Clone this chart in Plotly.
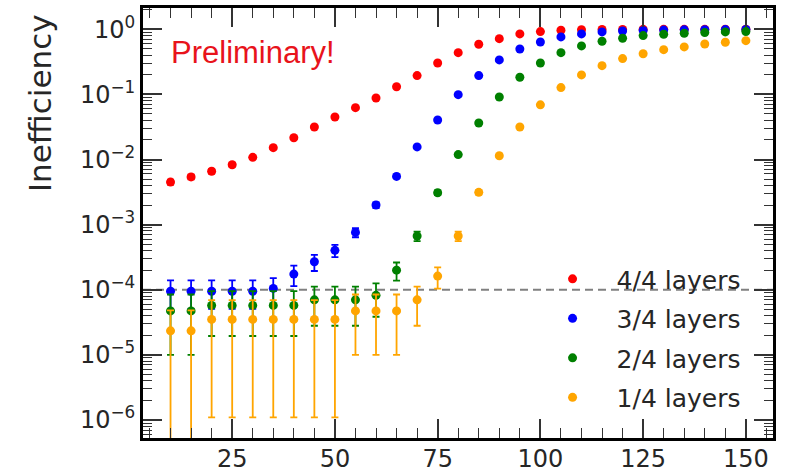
import plotly.graph_objects as go

x_vals = [10, 15, 20, 25, 30, 35, 40, 45, 50, 55, 60, 65, 70, 75, 80, 85, 90, 95, 100,
          105, 110, 115, 120, 125, 130, 135, 140, 145, 150]

red_y = [4.5e-3, 5.4e-3, 6.6e-3, 8.3e-3, 1.08e-2, 1.52e-2, 2.16e-2, 3.16e-2, 4.5e-2, 6.25e-2,
         8.8e-2, 0.131, 0.194, 0.303, 0.437, 0.589, 0.717, 0.847, 0.92, 0.965,
         0.98, 0.99, 0.993, 0.995, 0.996, 0.997, 0.997, 0.998, 0.998]
red_err = [4e-4, 4.5e-4, 5e-4, 5.5e-4, 6e-4, 7e-4, 9e-4, 1.1e-3, 1.3e-3, 1.5e-3,
           1.8e-3, 2.2e-3, 2.6e-3, 3e-3, 3.2e-3, 3.2e-3, 3e-3, 2.5e-3, 2e-3, 1.3e-3,
           1e-3, 7e-4, 6e-4, 5e-4, 4e-4, 4e-4, 4e-4, 3e-4, 3e-4]

blue_y = [9.5e-5, 9.5e-5, 9.5e-5, 9.5e-5, 9.5e-5, 1.05e-4, 1.74e-4, 2.69e-4, 4.03e-4, 7.6e-4,
          2.0e-3, 5.5e-3, 1.56e-2, 4.04e-2, 9.9e-2, 0.194, 0.338, 0.498, 0.638, 0.762,
          0.847, 0.909, 0.94, 0.96, 0.97, 0.978, 0.984, 0.988, 0.99]
blue_err = [4.4e-5, 4.4e-5, 4.4e-5, 4.4e-5, 4.4e-5, 4.6e-5, 6e-5, 7.5e-5, 8.5e-5, 1.2e-4,
            2e-4, 3.3e-4, 5.5e-4, 9e-4, 1.3e-3, 1.7e-3, 2e-3, 2.1e-3, 2e-3, 1.8e-3,
            1.5e-3, 1.2e-3, 1e-3, 8e-4, 7e-4, 6e-4, 5e-4, 4e-4, 4e-4]

green_y = [4.73e-5, 4.73e-5, 5.75e-5, 5.75e-5, 5.75e-5, 5.75e-5, 5.75e-5, 7.0e-5, 7.0e-5, 7.0e-5,
           8.2e-5, 2.0e-4, 6.7e-4, 3.09e-3, 1.19e-2, 3.64e-2, 9.1e-2, 0.183, 0.303, 0.437,
           0.554, 0.653, 0.726, 0.798, 0.837, 0.868, 0.887, 0.909, 0.92]
green_err = [3.73e-5, 3.73e-5, 3.8e-5, 3.8e-5, 3.8e-5, 3.8e-5, 3.8e-5, 4.2e-5, 4.2e-5, 4.2e-5,
             4.35e-5, 6.2e-5, 1.1e-4, 2.5e-4, 5e-4, 8e-4, 1.2e-3, 1.6e-3, 1.9e-3, 2.1e-3,
             2.1e-3, 2e-3, 1.8e-3, 1.6e-3, 1.5e-3, 1.4e-3, 1.3e-3, 1.2e-3, 1.1e-3]

orange_y = [2.34e-5, 2.34e-5, 3.51e-5, 3.51e-5, 3.51e-5, 3.51e-5, 3.51e-5, 3.51e-5, 3.51e-5, 4.73e-5,
            4.73e-5, 4.73e-5, 7.0e-5, 1.62e-4, 6.7e-4, 3.13e-3, 1.14e-2, 3.16e-2, 6.9e-2, 0.127,
            0.199, 0.276, 0.354, 0.42, 0.486, 0.535, 0.594, 0.63, 0.668]
orange_err = [2.5e-5, 2.5e-5, 3.4e-5, 3.4e-5, 3.4e-5, 3.4e-5, 3.4e-5, 3.4e-5, 3.4e-5, 3.73e-5,
              3.73e-5, 3.73e-5, 4.2e-5, 5.8e-5, 1.1e-4, 2.5e-4, 5e-4, 8e-4, 1.2e-3, 1.6e-3,
              1.9e-3, 2.1e-3, 2.2e-3, 2.3e-3, 2.3e-3, 2.3e-3, 2.3e-3, 2.2e-3, 2.2e-3]

series_names = ["4/4 layers", "3/4 layers", "2/4 layers", "1/4 layers"]
series_colors = ["#ff0000", "#0000ff", "#008000", "#ffa500"]
series_y = [red_y, blue_y, green_y, orange_y]
series_err = [red_err, blue_err, green_err, orange_err]

ytick_vals = [1e-6, 1e-5, 1e-4, 1e-3, 1e-2, 1e-1, 1]
ytick_exps = ["−6", "−5", "−4", "−3", "−2", "−1", "0"]
ytick_text = ["10<sup style='font-size:17px'>%s</sup>" % e for e in ytick_exps]
y_minor = [m * 10.0 ** e for e in range(-7, 1) for m in range(2, 10)]

fig = go.Figure()
for name, col, yv, ev in zip(series_names, series_colors, series_y, series_err):
    fig.add_trace(go.Scatter(
        x=x_vals, y=yv, mode="markers", name=name, legendgroup=name,
        marker=dict(color=col, size=9),
        error_y=dict(type="data", array=ev, visible=True, color=col, thickness=1.8, width=3.5),
    ))

fig.add_hline(y=1e-4, line=dict(color="#808080", width=2, dash="8px,5px"), layer="below")

axis_font = dict(family="DejaVu Sans", size=24, color="#262626")
fig.update_xaxes(
    range=[3.3, 156.6], tickmode="linear", tick0=0, dtick=25, automargin=False,
    ticks="inside", ticklen=19, tickwidth=1.5, tickcolor="#333", ticklabelstandoff=-3,
    showline=True, linewidth=3, linecolor="black", mirror="allticks",
    showgrid=False, zeroline=False, tickfont=axis_font,
    minor=dict(ticks="inside", dtick=5, tick0=0, ticklen=10, tickwidth=1.3, tickcolor="#333", showgrid=False),
)
fig.update_yaxes(
    type="log", range=[-6.276, 0.326], automargin=False,
    tickmode="array", tickvals=ytick_vals, ticktext=ytick_text,
    ticks="inside", ticklen=19, tickwidth=1.5, tickcolor="#333",
    showline=True, linewidth=3, linecolor="black", mirror="allticks",
    showgrid=False, zeroline=False, tickfont=axis_font,
    minor=dict(ticks="inside", tickmode="array", tickvals=y_minor, ticklen=9, tickwidth=1.3, tickcolor="#333", showgrid=False),
)

fig.add_annotation(
    text="Inefficiency", xref="paper", yref="paper", x=-0.1635, y=0.779,
    xanchor="center", yanchor="middle", textangle=-90, showarrow=False,
    font=dict(family="DejaVu Sans", size=31, color="#262626"),
)

fig.add_annotation(
    text="Preliminary!", xref="paper", yref="paper", x=0.041, y=0.943,
    xanchor="left", yanchor="top", showarrow=False,
    font=dict(family="Liberation Sans", size=31, color="#e8131b"),
)

fig.update_layout(
    width=785, height=472,
    margin=dict(l=143, r=12, t=8, b=34),
    plot_bgcolor="white", paper_bgcolor="white",
    showlegend=True,
    legend=dict(x=0.612, y=0.423, xanchor="left", yanchor="top",
                bgcolor="rgba(0,0,0,0)", font=dict(family="DejaVu Sans", size=25, color="#262626"),
                tracegroupgap=4, traceorder="grouped", itemwidth=78),
)

fig.write_html("out.html", config={"displayModeBar": False},
               post_script="document.body.style.margin='0px';")
